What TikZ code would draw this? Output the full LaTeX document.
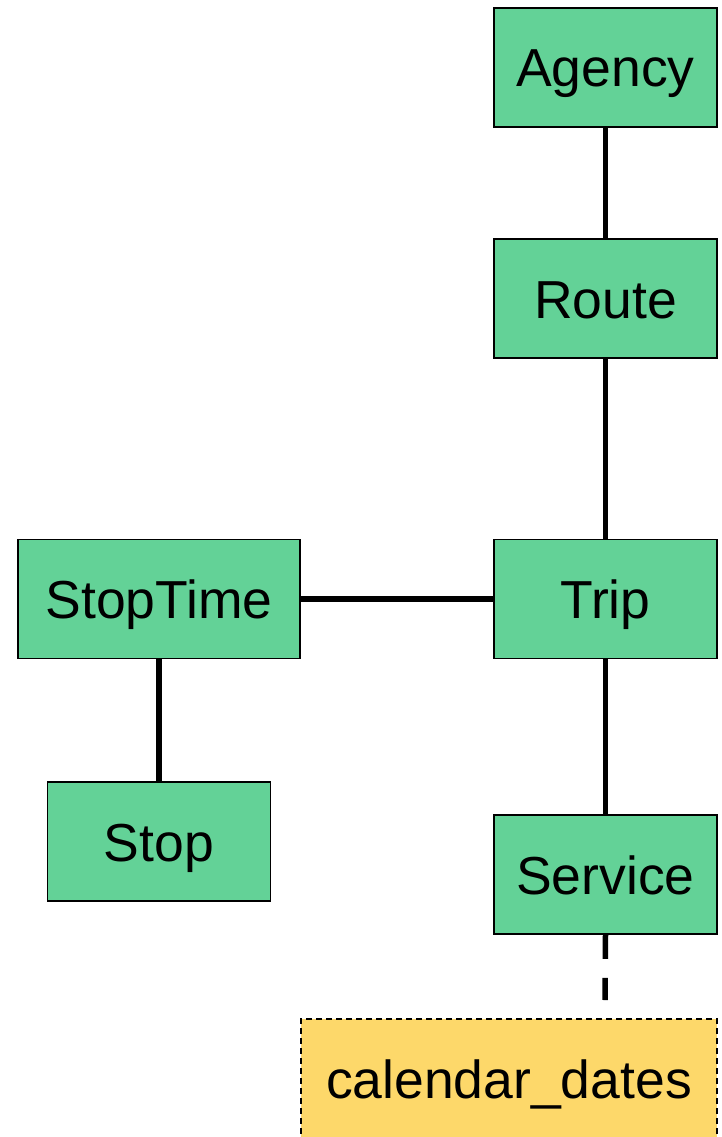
\documentclass[tikz,border=0pt]{standalone}
\usepackage{fontspec}
\setmainfont{Liberation Sans}
\definecolor{entgreen}{RGB}{99,210,151}
\definecolor{extyellow}{RGB}{253,216,106}
\begin{document}
\begin{tikzpicture}[x=1pt,y=-1pt,
  entity/.style={draw=black, line width=1.8pt, fill=entgreen, inner sep=0pt,
    minimum width=223pt, minimum height=119pt,
    text height=39pt, text depth=0pt,
    font=\fontsize{53.5}{60}\selectfont},
  extfile/.style={entity, fill=extyellow, dash pattern=on 6pt off 4pt},
  link/.style={line width=5.5pt},
  optlink/.style={line width=5.5pt, dash pattern=on 24pt off 19pt}]
  \useasboundingbox (0,0) rectangle (721,1137);
  \node[entity] (agency) at (605.5,67.5) {Agency};
  \node[entity] (route) at (605.5,298.5) {Route};
  \node[entity] (trip) at (605.5,599) {Trip};
  \node[entity, minimum width=282pt] (stoptime) at (159,599) {StopTime};
  \node[entity] (stop) at (159,841.5) {Stop};
  \node[entity] (service) at (605.5,874.5) {Service};
  \node[extfile, minimum width=416pt] (caldates) at (509,1078.5) {calendar\_dates};
  \coordinate (calend) at (605,1000);
  \draw[link] (agency.south) -- (route.north);
  \draw[link] (route.south) -- (trip.north);
  \draw[link] (stoptime.east) -- (trip.west);
  \draw[link] (stoptime.south) -- (stop.north);
  \draw[link] (trip.south) -- (service.north);
  \draw[optlink] (service.south) -- (calend);
\end{tikzpicture}
\end{document}
